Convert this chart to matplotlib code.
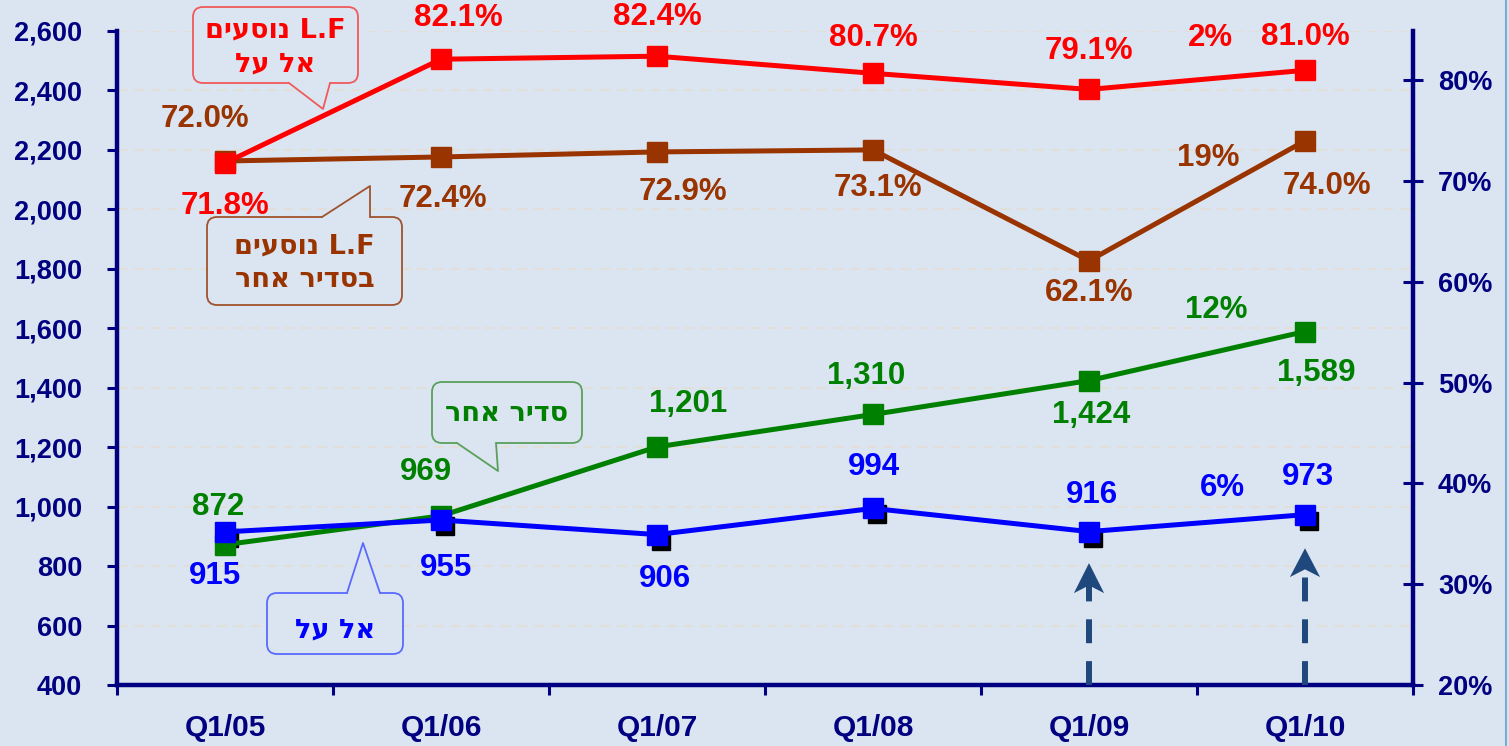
import matplotlib
matplotlib.use("Agg")
import matplotlib.pyplot as plt
from matplotlib.patches import FancyBboxPatch, Polygon
from matplotlib.lines import Line2D
from matplotlib.transforms import IdentityTransform, ScaledTranslation
from matplotlib.ticker import FuncFormatter

plt.rcParams['font.family'] = ['Liberation Sans', 'DejaVu Sans']
plt.rcParams['font.weight'] = 'bold'

# data
quarters = ["Q1/05", "Q1/06", "Q1/07", "Q1/08", "Q1/09", "Q1/10"]
lf_elal = [71.8, 82.1, 82.4, 80.7, 79.1, 81.0]        # % right axis
lf_other = [72.0, 72.4, 72.9, 73.1, 62.1, 74.0]       # % right axis
pax_other = [872, 969, 1201, 1310, 1424, 1589]        # left axis
pax_elal = [915, 955, 906, 994, 916, 973]             # left axis

W, H = 1509, 746
bg = '#dbe5f1'
navy = '#000080'
RED, BROWN, GREEN, BLUE = '#ff0000', '#993300', '#008000', '#0000ff'


def heb(s):
    # matplotlib has no bidi: flip word order and the hebrew words
    out = []
    for w in s.split(' ')[::-1]:
        if any('\u0590' <= ch <= '\u05ff' for ch in w):
            w = w[::-1]
        out.append(w)
    return ' '.join(out)


fig = plt.figure(figsize=(W / 100, H / 100), dpi=100, facecolor=bg)
ax = fig.add_axes([117 / W, 1 - 685 / H, (1413 - 117) / W, (685 - 31) / H])
ax.set_facecolor(bg)
ax2 = ax.twinx()

x = list(range(len(quarters)))

ax.set_xlim(-0.5, 5.5)
ax.set_ylim(400, 2600)
ax2.set_ylim(20, 84.9)

ax.set_yticks(range(400, 2601, 200))
ax.yaxis.set_major_formatter(FuncFormatter(lambda v, p: f"{int(v):,}"))
ax2.set_yticks(range(20, 81, 10))
ax2.yaxis.set_major_formatter(FuncFormatter(lambda v, p: f"{int(v)}%"))

ax.set_xticks([i - 0.5 for i in range(7)])
ax.set_xticklabels([])
ax.set_xticks(x, minor=True)
ax.set_xticklabels(quarters, minor=True)

for a in (ax, ax2):
    for s in a.spines.values():
        s.set_visible(False)
ax.spines['left'].set_visible(True)
ax.spines['bottom'].set_visible(True)
ax2.spines['right'].set_visible(True)
for s in (ax.spines['left'], ax.spines['bottom'], ax2.spines['right']):
    s.set_color(navy)
    s.set_linewidth(3.2)

ax.tick_params(axis='y', direction='out', length=7, width=2.2, color=navy,
               labelcolor=navy, labelsize=19.5, pad=18)
ax2.tick_params(axis='y', direction='inout', length=14, width=2.2, color=navy,
                labelcolor=navy, labelsize=19.5, pad=11)
ax.tick_params(axis='x', which='major', direction='out', length=7, width=2.2, color=navy)
ax.tick_params(axis='x', which='minor', length=0, labelcolor=navy, labelsize=21.5, pad=21)

ax.grid(axis='y', color='#e3ded3', linestyle=(0, (6, 4)), linewidth=1.2)
ax.set_axisbelow(True)

# lines
shadow = ax.transData + ScaledTranslation(4 / 100, -6 / 100, fig.dpi_scale_trans)
ax.plot(x, pax_elal, 's', color='black', ms=12.5, transform=shadow, zorder=2)
ax.plot(x, pax_other, '-s', color=GREEN, lw=3.6, ms=14.5, zorder=3)
ax.plot(x, pax_elal, '-s', color=BLUE, lw=3.6, ms=14.5, zorder=4)
ax2.plot(x, lf_other, '-s', color=BROWN, lw=3.6, ms=14.5, zorder=3)
ax2.plot(x, lf_elal, '-s', color=RED, lw=3.6, ms=14.5, zorder=4)
ax2.plot(x, lf_elal, 'X', color=RED, ms=13, zorder=4)

# value labels (pixel offsets from the points)
red_off = [(0, -43), (17, 41), (0, 39), (0, 35), (0, 38), (0, 33)]
brown_off = [(-20, 42), (2, -42), (26, -40), (5, -38), (0, -32), (22, -45)]
green_off = [(-7, 38), (-15, 44), (31, 43), (-7, 38), (2, -34), (11, -41)]
blue_off = [(-10, -44), (5, -48), (8, -44), (1, 41), (3, 37), (3, 38)]

fs = 22.5
for i in x:
    ax2.annotate(f"{lf_elal[i]:.1f}%", (i, lf_elal[i]), xytext=red_off[i],
                 textcoords='offset pixels', ha='center', va='center',
                 color=RED, fontsize=fs)
    ax2.annotate(f"{lf_other[i]:.1f}%", (i, lf_other[i]), xytext=brown_off[i],
                 textcoords='offset pixels', ha='center', va='center',
                 color=BROWN, fontsize=fs)
    ax.annotate(f"{pax_other[i]:,}", (i, pax_other[i]), xytext=green_off[i],
                textcoords='offset pixels', ha='center', va='center',
                color=GREEN, fontsize=fs)
    ax.annotate(f"{pax_elal[i]:,}", (i, pax_elal[i]), xytext=blue_off[i],
                textcoords='offset pixels', ha='center', va='center',
                color=BLUE, fontsize=fs)


# growth Q1/09 -> Q1/10
def growth(s):
    return f"{round((s[-1] / s[-2] - 1) * 100):.0f}%"


ax2.text(4.56, 84.2, growth(lf_elal), color=RED, fontsize=fs, ha='center', va='center')
ax2.text(4.55, 72.3, growth(lf_other), color=BROWN, fontsize=fs, ha='center', va='center')
ax.text(4.59, 1660, growth(pax_other), color=GREEN, fontsize=fs, ha='center', va='center')
ax.text(4.62, 1062, growth(pax_elal), color=BLUE, fontsize=fs, ha='center', va='center')

# dashed arrows under the last two quarters
arrow_c = '#1f497d'
for xi, notch, apex, back in [(4, 743, 810, 709), (5, 797, 860, 763)]:
    ax.plot([xi, xi], [400, notch], color=arrow_c, lw=4.3, linestyle=(0, (4, 3)),
            dash_capstyle='butt', zorder=5, clip_on=False)
    ax.add_patch(Polygon([(xi, apex), (xi - 0.07, back), (xi, notch - 8),
                          (xi + 0.07, back)], closed=True, fc=arrow_c, ec='none', zorder=5))

# callouts, drawn in image pixel coordinates
T = IdentityTransform()


def callout(x0, y0, x1, y1, b0, b1, apex, lines, tcolor, ecolor, ys):
    box = FancyBboxPatch((x0, H - y1), x1 - x0, y1 - y0,
                         boxstyle='round,pad=0,rounding_size=10',
                         fc=bg, ec=ecolor, lw=1.3, transform=T, zorder=6)
    fig.add_artist(box)
    d = -3 if apex[1] > b0[1] else 3
    pts = [(b0[0], b0[1] + d), b0, apex, b1, (b1[0], b1[1] + d)]
    fig.add_artist(Polygon([(px, H - py) for px, py in pts], closed=True,
                           fc=bg, ec='none', transform=T, zorder=7))
    fig.add_artist(Line2D([b0[0], apex[0], b1[0]], [H - b0[1], H - apex[1], H - b1[1]],
                          color=ecolor, lw=1.3, transform=T, zorder=8))
    for s, yy in zip(lines, ys):
        fig.text((x0 + x1) / 2, H - yy, heb(s), transform=T, ha='center', va='center',
                 color=tcolor, fontsize=19.5, fontweight='bold',
                 family=['DejaVu Sans'], zorder=9)


callout(193, 7, 358, 83, (289, 83), (330, 83), (323, 109),
        ["L.F נוסעים", "אל על"], RED, '#f05a5a', [31, 64])
callout(207, 217, 402, 305, (322, 217), (370, 217), (370, 186),
        ["L.F נוסעים", "בסדיר אחר"], BROWN, '#a0522d', [246, 280])
callout(432, 382, 582, 443, (457, 443), (496, 443), (498, 471),
        ["סדיר אחר"], GREEN, '#5aa05a', [414])
callout(267, 593, 403, 654, (347, 593), (380, 593), (363, 543),
        ["אל על"], BLUE, '#5a6aff', [630])

fig.add_artist(Line2D([1505.5, 1505.5], [0, H], color='#7fa7d8', lw=1.5, transform=T))

fig.savefig("out.png", dpi=100, facecolor=bg)
